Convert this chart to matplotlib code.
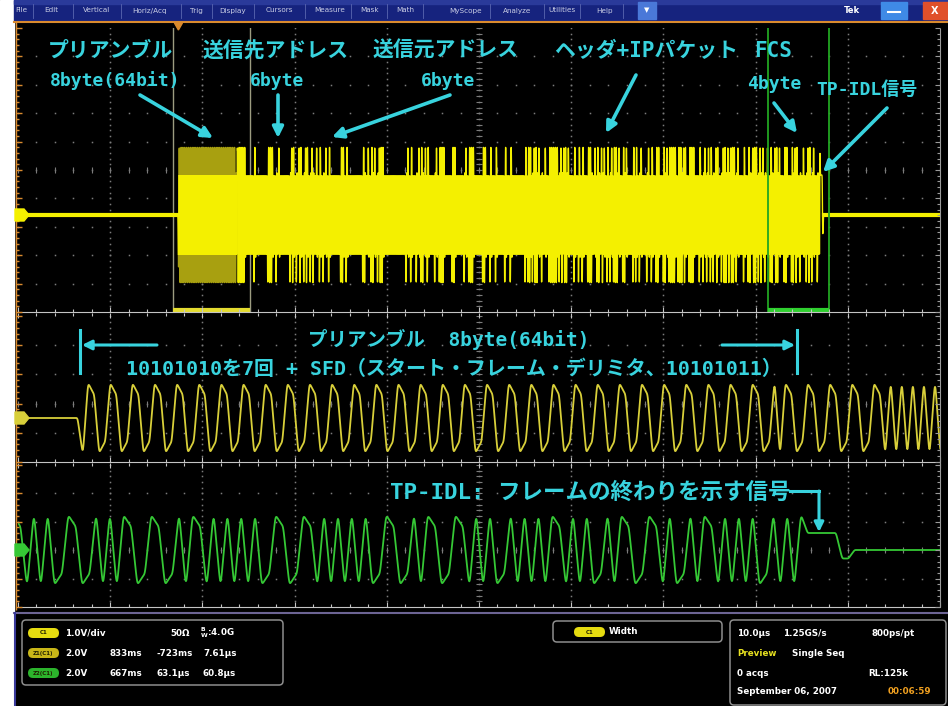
import numpy as np
import matplotlib
matplotlib.use("Agg")
import matplotlib.pyplot as plt
from matplotlib.patches import FancyBboxPatch, Rectangle, Polygon
from matplotlib.collections import LineCollection

plt.rcParams["font.family"] = ["Noto Sans CJK JP", "DejaVu Sans"]
plt.rcParams["path.simplify"] = False

# ---------------- frame contents ----------------
PREAMBLE_BITS = ["10101010"] * 7 + ["10101011"]          # sent exactly as written
DST_ADDR = [0xAA, 0x00, 0x04, 0x00, 0x2A, 0x1C]
SRC_ADDR = [0x00, 0x16, 0x17, 0x8B, 0x3D, 0xE2]
ETHER_TYPE = [0x08, 0x00]
IP_HEADER = [0x45, 0x00, 0x00, 0x3D, 0x1A, 0x2B, 0x00, 0x00, 0x80, 0x11,
             0x9C, 0x4E, 0xC0, 0xA8, 0x00, 0x0A, 0xC0, 0xA8, 0x00, 0x14]
UDP_HEADER = [0x04, 0x01, 0x04, 0x01, 0x00, 0x29, 0x6B, 0x3C]
PAYLOAD = [0x54, 0x65, 0x6B, 0x20, 0x44, 0x50, 0x4F, 0x37, 0x32, 0x35, 0x34,
           0x20, 0x31, 0x30, 0x42, 0x41, 0x53, 0x45, 0x2D, 0x54, 0x20, 0x66,
           0x72, 0x61, 0x6D, 0x65, 0x20, 0x74, 0x65, 0x73, 0x74, 0x0D, 0x0A]
FCS = [0x5A, 0x3C, 0x96, 0xE1]
# end-of-frame TP_IDL pulse: (duration ns, normalised level)
TP_IDL_SEGMENTS = [(250, 0.50), (90, -0.25)]
# 10BASE-T pre-distortion: level of the second half of a 100 ns pulse
TX_LONG_LEVEL = 0.72

# ---------------- acquisition settings ----------------
MAIN_US_PER_DIV = 10.0
Z1_NS_PER_DIV = 833.0
Z2_NS_PER_DIV = 667.0
MAIN_FRAME_START_US = 17.4
Z1_FRAME_START_NS = 560.0
Z2_FRAME_END_NS = 5690.0

# ---------------- readouts ----------------
MENU_ITEMS = ["File", "Edit", "Vertical", "Horiz/Acq", "Trig", "Display", "Cursors",
              "Measure", "Mask", "Math", "MyScope", "Analyze", "Utilities", "Help"]
CH1_ROW = ["C1", "1.0V/div", "50Ω", r"$\mathregular{^B_W}$:4.0G"]
ZOOM_ROWS = [["Z1(C1)", "2.0V", "833ms", "-723ms", "7.61µs"],
             ["Z2(C1)", "2.0V", "667ms", "63.1µs", "60.8µs"]]
MEAS_ROW = ["C1", "Width"]
HORIZ_ROW = ["10.0µs", "1.25GS/s", "800ps/pt"]
ACQ_ROW = ["Preview", "Single Seq"]
REC_ROW = ["0 acqs", "RL:125k"]
STAMP_ROW = ["September 06, 2007", "00:06:59"]

TOP_LABELS = ["プリアンブル", "送信先アドレス", "送信元アドレス", "ヘッダ+IPパケット", "FCS"]
SIZE_LABELS = ["8byte(64bit)", "6byte", "6byte", "4byte", "TP-IDL信号"]
Z1_LABELS = ["プリアンブル  8byte(64bit)",
             "10101010を7回 + SFD（スタート・フレーム・デリミタ、10101011）"]
Z2_LABEL = "TP-IDL: フレームの終わりを示す信号"

# ---------------- colours ----------------
BG = "#000000"
CYAN = "#38d3de"
YEL = "#f4f000"
YEL_OLIVE = "#a8a010"
YEL_Z = "#d8cf3a"
GRN = "#35c835"
GRID = "#7c7c7c"
EDGE = "#c4c4c4"
ORANGE = "#d98a2e"
NAVY = "#16237e"
LATIN_CJK = ["DejaVu Sans Mono", "Noto Sans CJK JP"]

W, H = 948, 706
fig = plt.figure(figsize=(W / 100, H / 100), dpi=100)
fig.patch.set_facecolor(BG)

X0, X1 = 18, 940
PANEL_MAIN = (28, 312)
PANEL_Z1 = (316, 462)
PANEL_Z2 = (465, 607)


def panel_axes(y0, y1):
    ax = fig.add_axes([X0 / W, 1 - y1 / H, (X1 - X0) / W, (y1 - y0) / H])
    ax.set_facecolor(BG)
    ax.set_xticks([])
    ax.set_yticks([])
    for s in ax.spines.values():
        s.set_visible(False)
    return ax


def graticule(ax, ny):
    xs = np.linspace(0, 1, 10 * 5 + 1)
    ys = np.linspace(0, 1, ny * 5 + 1)
    for j in range(1, ny):
        ax.plot(xs, np.full_like(xs, j / ny), ls="none", marker="s", ms=1.1,
                mew=0, color=GRID, transform=ax.transAxes, zorder=1)
    for k in range(1, 10):
        ax.plot(np.full_like(ys, k / 10), ys, ls="none", marker="s", ms=1.1,
                mew=0, color=GRID, transform=ax.transAxes, zorder=1)
    ax.plot(np.full_like(ys, 0.5), ys, ls="none", marker="_", ms=4, mew=0.8,
            color=GRID, transform=ax.transAxes, zorder=1)
    cy = (ny // 2) / ny
    ax.plot(xs, np.full_like(xs, cy), ls="none", marker="|", ms=4, mew=0.8,
            color=GRID, transform=ax.transAxes, zorder=1)


# ---------------- line signal ----------------
BIT_NS = 100.0
SPB = 40
DT = BIT_NS / SPB


def frame_bits():
    bits = [int(c) for word in PREAMBLE_BITS for c in word]
    for field in (DST_ADDR, SRC_ADDR, ETHER_TYPE, IP_HEADER, UDP_HEADER, PAYLOAD, FCS):
        for byte in field:
            bits.extend((byte >> k) & 1 for k in range(8))
    return bits


def manchester(bits):
    halves = np.array([(-1.0, 1.0) if b else (1.0, -1.0) for b in bits]).ravel()
    levels = halves.copy()
    same = halves[1:] == halves[:-1]
    levels[1:][same] *= TX_LONG_LEVEL
    return np.repeat(levels, SPB // 2)


def smooth(x, sigma_ns, box_ns=0.0):
    """Band-limit the line signal: optional moving average, then gaussian."""
    if box_ns > 0:
        n = max(1, int(round(box_ns / DT)))
        x = np.convolve(x, np.ones(n) / n, mode="same")
    s = sigma_ns / DT
    k = np.arange(-int(4 * s), int(4 * s) + 1)
    g = np.exp(-0.5 * (k / s) ** 2)
    return np.convolve(x, g / g.sum(), mode="same")


bits = frame_bits()
LEAD_NS, TRAIL_NS = 1500.0, 3000.0
parts = [np.zeros(int(LEAD_NS / DT)), manchester(bits)]
parts += [np.full(int(d / DT), lvl) for d, lvl in TP_IDL_SEGMENTS]
parts.append(np.zeros(int(TRAIL_NS / DT)))
raw = np.concatenate(parts)
t_ns = np.arange(raw.size) * DT - LEAD_NS
frame_ns = len(bits) * BIT_NS
pre_ns = len(PREAMBLE_BITS) * 8 * BIT_NS

# ---------------- main acquisition ----------------
A_MAIN = 80.0
ax_m = panel_axes(*PANEL_MAIN)
ax_m.set_xlim(0, 10 * MAIN_US_PER_DIV)
ax_m.set_ylim(-(312 - 215) / A_MAIN, (215 - 28) / A_MAIN)
graticule(ax_m, 10)
y_main = smooth(raw, 22)
x_main = MAIN_FRAME_START_US + t_ns / 1000
pre = (t_ns >= -50) & (t_ns <= pre_ns)
post = t_ns >= pre_ns - 5
ax_m.plot(x_main[pre], y_main[pre], color=YEL_OLIVE, lw=1.0, zorder=4)
core = ax_m.plot(x_main[pre], y_main[pre], color=YEL, lw=1.0, zorder=4)[0]
core.set_clip_path(Rectangle((0, -0.5), 100, 1.0, transform=ax_m.transData))
ax_m.plot(x_main[post], y_main[post], color=YEL, lw=1.0, zorder=4)
ax_m.plot([0, MAIN_FRAME_START_US], [0, 0], color=YEL, lw=3, zorder=4)
end_us = MAIN_FRAME_START_US + frame_ns / 1000
ax_m.plot([end_us + 0.4, 100], [0, 0], color=YEL, lw=3, zorder=4)

# zoom window indicators
z1_a = MAIN_FRAME_START_US - Z1_FRAME_START_NS / 1000
z1_b = z1_a + 10 * Z1_NS_PER_DIV / 1000
z2_a = end_us - Z2_FRAME_END_NS / 1000
z2_b = z2_a + 10 * Z2_NS_PER_DIV / 1000
for xv in (z1_a, z1_b):
    ax_m.axvline(xv, color="#9c9c80", lw=1.0, zorder=2)
for xv in (z2_a, z2_b):
    ax_m.axvline(xv, color="#22a622", lw=1.3, zorder=5)
tr = ax_m.get_xaxis_transform()
ax_m.plot([z1_a, z1_b], [0.006, 0.006], color="#e4dc30", lw=3, transform=tr,
          zorder=6, solid_capstyle="butt")
ax_m.plot([z2_a, z2_b], [0.006, 0.006], color="#2fd02f", lw=3, transform=tr,
          zorder=6, solid_capstyle="butt")

# ---------------- zoom 1 : preamble ----------------
A_Z = 34.0
ax_z1 = panel_axes(*PANEL_Z1)
ax_z1.set_xlim(0, 10 * Z1_NS_PER_DIV)
ax_z1.set_ylim(-(462 - 418) / A_Z, (418 - 316) / A_Z)
graticule(ax_z1, 5)
ax_z1.plot(Z1_FRAME_START_NS + t_ns, smooth(raw, 5, 45), color=YEL_Z, lw=1.3, zorder=4)

# ---------------- zoom 2 : end of frame ----------------
ax_z2 = panel_axes(*PANEL_Z2)
ax_z2.set_xlim(0, 10 * Z2_NS_PER_DIV)
ax_z2.set_ylim(-(607 - 550) / A_Z, (550 - 465) / A_Z)
graticule(ax_z2, 5)
ax_z2.plot(Z2_FRAME_END_NS - frame_ns + t_ns, smooth(raw, 5, 45), color=GRN, lw=1.3, zorder=4)

# ---------------- overlay in pixel units ----------------
ov = fig.add_axes([0, 0, 1, 1])
ov.set_xlim(0, W)
ov.set_ylim(H, 0)
ov.set_axis_off()
ov.patch.set_alpha(0)

# left white margin, menu bar
ov.add_patch(Rectangle((0, 0), 14, H, color="white", zorder=1))
ov.add_patch(Rectangle((14, 0), W - 14, 21, color=NAVY, zorder=1))
ov.add_patch(Rectangle((14, 0), W - 14, 4, color="#2a3a9a", zorder=1))
menu_x = [21, 51, 97, 150, 196, 233, 279, 330, 370, 405, 466, 517, 562, 605]
for mx, name in zip(menu_x, MENU_ITEMS):
    ov.text(mx, 10.5, name, color="#c8cce4", fontsize=5.2, ha="center", va="center",
            family="DejaVu Sans", zorder=2)
for sx in [33, 73, 121, 181, 212, 254, 305, 351, 387, 423, 490, 544, 580, 623]:
    ov.plot([sx, sx], [4, 18], color="#5a66b0", lw=0.6, zorder=2)
ov.add_patch(Rectangle((638, 2), 18, 17, color="#4a78d8", zorder=2))
ov.text(647, 10.5, "▼", color="white", fontsize=5, ha="center", va="center",
        family="DejaVu Sans", zorder=3)
ov.text(852, 10.5, "Tek", color="white", fontsize=6, ha="center", va="center",
        family="DejaVu Sans", weight="bold", zorder=2)
ov.add_patch(Rectangle((881, 2), 26, 17, color="#3f8ae6", zorder=2))
ov.plot([888, 900], [12, 12], color="white", lw=1.5, zorder=3)
ov.add_patch(Rectangle((923, 2), 25, 17, color="#e0502a", zorder=2))
ov.text(935, 10.5, "X", color="white", fontsize=7, ha="center", va="center",
        family="DejaVu Sans", weight="bold", zorder=3)

# screen top edge and trigger position marker
ov.plot([14, W], [22, 22], color=ORANGE, lw=1.5, zorder=2)
trig_px = X0 + MAIN_FRAME_START_US / (10 * MAIN_US_PER_DIV) * (X1 - X0)
ov.add_patch(Polygon([(trig_px - 4, 23), (trig_px + 4, 23), (trig_px, 30)],
                     color=ORANGE, zorder=3))

# panel edges with minor tick marks
segs = []
for ye in (312, 462, 607):
    segs.append([(X0, ye), (X1, ye)])
    for k in range(51):
        xk = X0 + k * (X1 - X0) / 50
        ln = 5 if k % 5 == 0 else 3
        segs.append([(xk, ye), (xk, ye - ln)])
        if ye != 607:
            segs.append([(xk, ye + 1), (xk, ye + 1 + ln)])
ov.add_collection(LineCollection(segs, colors=EDGE, linewidths=0.8, zorder=3))
segs = [[(X1, 28), (X1, 607)]]
for (a, b), ny in ((PANEL_MAIN, 10), (PANEL_Z1, 5), (PANEL_Z2, 5)):
    for k in range(ny * 5 + 1):
        yk = a + k * (b - a) / (ny * 5)
        segs.append([(X1, yk), (X1 - (5 if k % 5 == 0 else 3), yk)])
ov.add_collection(LineCollection(segs, colors="#9a9a9a", linewidths=0.8, zorder=3))
segs = [[(16, 22), (16, 610)]]
for (a, b), ny in ((PANEL_MAIN, 10), (PANEL_Z1, 5), (PANEL_Z2, 5)):
    for k in range(ny * 5 + 1):
        yk = a + k * (b - a) / (ny * 5)
        segs.append([(16, yk), (16 + (6 if k % 5 == 0 else 3), yk)])
ov.add_collection(LineCollection(segs, colors=ORANGE, linewidths=1.0, zorder=3))

# channel markers
for yc, col in ((215, YEL), (418, YEL_Z), (550, GRN)):
    ov.add_patch(Polygon([(15, yc - 6), (24, yc - 6), (29, yc), (24, yc + 6), (15, yc + 6)],
                         color=col, zorder=6))

# ---------------- annotations ----------------
ann = dict(color=CYAN, weight="bold", va="center", ha="left", zorder=8)
for x, txt in zip([48, 203, 373, 554, 754], TOP_LABELS):
    ov.text(x, 51, txt, fontsize=15, family=LATIN_CJK, **ann)
for (x, y), txt in zip([(50, 81), (250, 81), (421, 81), (747, 84), (816, 90)], SIZE_LABELS):
    ov.text(x, y, txt, fontsize=13, family=LATIN_CJK, **ann)


def arrow(x0, y0, x1, y1, lw=2.6, ms=16):
    ov.annotate("", xy=(x1, y1), xytext=(x0, y0), zorder=8,
                arrowprops=dict(arrowstyle="-|>", color=CYAN, lw=lw,
                                mutation_scale=ms, shrinkA=0, shrinkB=0))


arrow(140, 95, 213, 138)
arrow(278, 95, 278, 138)
arrow(450, 95, 332, 137)
arrow(636, 75, 606, 133)
arrow(774, 103, 797, 133)
arrow(887, 108, 823, 172)

# preamble span in zoom 1
ov.text(449, 339, Z1_LABELS[0], fontsize=14, ha="center", color=CYAN, weight="bold",
        va="center", family=LATIN_CJK, zorder=8)
ov.text(454, 369, Z1_LABELS[1], fontsize=14.4, ha="center", color=CYAN, weight="bold",
        va="center", family=LATIN_CJK, zorder=8)
ov.plot([80, 80], [330, 373], color=CYAN, lw=2.2, zorder=8)
ov.plot([797, 797], [330, 373], color=CYAN, lw=2.2, zorder=8)
arrow(157, 345, 82, 345, lw=2.2, ms=14)
arrow(722, 345, 795, 345, lw=2.2, ms=14)

# TP_IDL callout in zoom 2
ov.text(390, 492, Z2_LABEL, fontsize=16.2, color=CYAN, weight="bold", va="center",
        ha="left", family=LATIN_CJK, zorder=8)
ov.plot([790, 819], [491, 491], color=CYAN, lw=2.2, zorder=8)
arrow(819, 491, 819, 532, lw=2.2, ms=14)

# ---------------- status area ----------------
ov.plot([14, W], [613, 613], color="#6c6494", lw=1.5, zorder=2)
ov.plot([15.5, 15.5], [613, H], color="#3a3a9a", lw=1.5, zorder=2)
st = dict(color="white", fontsize=6.3, weight="bold", va="center", ha="left",
          family="DejaVu Sans", zorder=4)


def status_box(x, y, w, h):
    ov.add_patch(FancyBboxPatch((x, y), w, h, boxstyle="round,pad=0,rounding_size=4",
                                fc=BG, ec="#8e8e8e", lw=1.1, zorder=3))


def pill(x, y, txt, col):
    ov.add_patch(FancyBboxPatch((x, y - 5), 31, 10, boxstyle="round,pad=0,rounding_size=5",
                                fc=col, ec="none", zorder=4))
    ov.text(x + 15.5, y, txt, color="#202000", fontsize=4, ha="center", va="center",
            family="DejaVu Sans", weight="bold", zorder=5)


status_box(22, 620, 261, 65)
pill(28, 633, CH1_ROW[0], "#e6dc10")
for x, txt in zip([65, 170, 200], CH1_ROW[1:]):
    ov.text(x, 633, txt, **st)
for yr, row, col in zip([653, 673], ZOOM_ROWS, ["#c8b618", "#2cb42c"]):
    pill(28, yr, row[0], col)
    for x, txt in zip([65, 110, 157, 203], row[1:]):
        ov.text(x, yr, txt, **st)

status_box(553, 621, 169, 21)
pill(574, 632, MEAS_ROW[0], "#e6dc10")
ov.text(609, 632, MEAS_ROW[1], **st)

status_box(730, 620, 216, 85)
for x, txt in zip([737, 783, 872], HORIZ_ROW):
    ov.text(x, 633, txt, **st)
ov.text(737, 653, ACQ_ROW[0], **{**st, "color": "#e6e020"})
ov.text(792, 653, ACQ_ROW[1], **st)
ov.text(737, 673, REC_ROW[0], **st)
ov.text(868, 673, REC_ROW[1], **st)
ov.text(737, 692, STAMP_ROW[0], **st)
ov.text(888, 692, STAMP_ROW[1], **{**st, "color": "#f0a020"})

fig.savefig("out.png", dpi=100, facecolor=BG)
